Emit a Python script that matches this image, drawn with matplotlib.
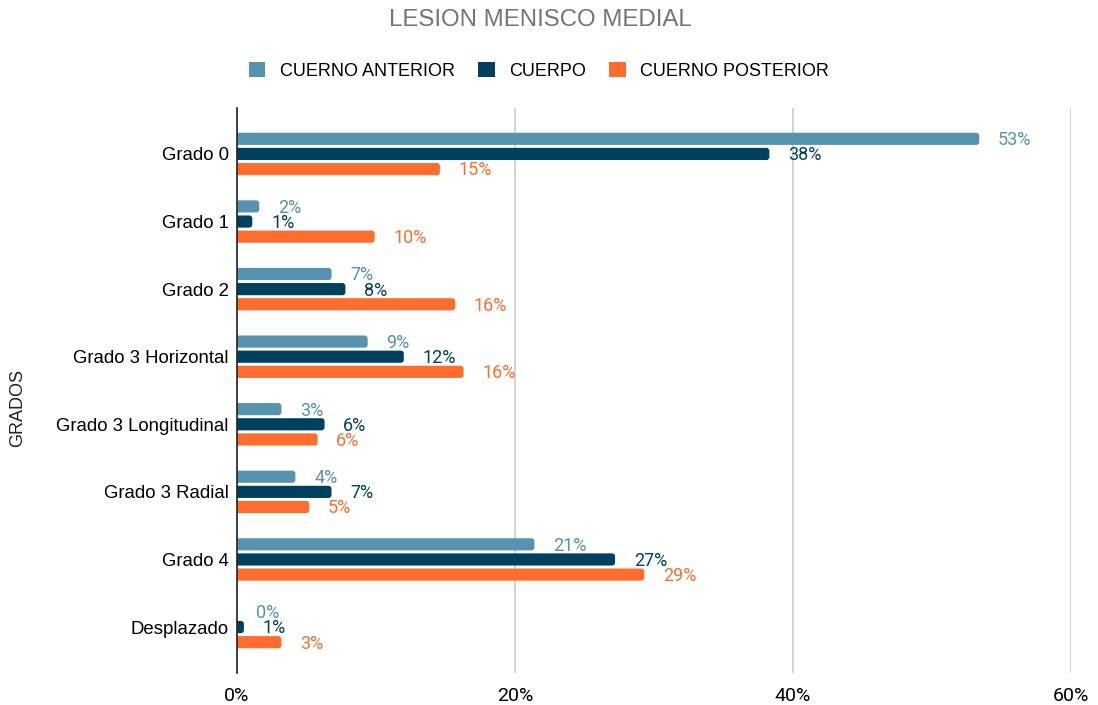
import matplotlib
matplotlib.use('Agg')
import matplotlib.pyplot as plt
from matplotlib.patches import FancyBboxPatch, Patch
import numpy as np

# data (percent)
categories = ['Grado 0', 'Grado 1', 'Grado 2', 'Grado 3 Horizontal',
              'Grado 3 Longitudinal', 'Grado 3 Radial', 'Grado 4', 'Desplazado']
cuerno_anterior = [53.4, 1.6, 6.8, 9.4, 3.2, 4.2, 21.4, 0.0]
cuerpo = [38.3, 1.1, 7.8, 12.0, 6.3, 6.8, 27.2, 0.5]
cuerno_posterior = [14.6, 9.9, 15.7, 16.3, 5.8, 5.2, 29.3, 3.2]
series_names = ['CUERNO ANTERIOR', 'CUERPO', 'CUERNO POSTERIOR']
xticks = [0, 20, 40, 60]

colors = ['#5793af', '#01405e', '#ff6d2e']
label_font = ['Roboto', 'DejaVu Sans']
text_font = ['Liberation Sans', 'DejaVu Sans']

fig = plt.figure(figsize=(10.98, 7.05), dpi=100)
ax = fig.add_axes([237/1098, 1-673/705, (1071-237)/1098, (673-108)/705])

y = np.arange(len(categories))
offset = 0.224
height = 0.18
series = [cuerno_anterior, cuerpo, cuerno_posterior]

# px per data unit, used for round ends
xpx = (1071-237) / 60.0
ypx = (673-108) / 8.36
r = 3.0 / xpx

for i, vals in enumerate(series):
    bars = ax.barh(y + (i-1)*offset, vals, height=height, color=colors[i])
    for b, v in zip(bars, vals):
        b.set_visible(False)
        if v > 0:
            p = FancyBboxPatch((b.get_x() - r, b.get_y()), b.get_width() + r, b.get_height(),
                               boxstyle='round,pad=0,rounding_size=%f' % r,
                               mutation_aspect=xpx/ypx, linewidth=0,
                               facecolor=colors[i])
            ax.add_patch(p)
        lbl = '%d%%' % int(v + 0.5)
        ax.annotate(lbl, (v, b.get_y() + b.get_height()/2), xytext=(13.5, -1),
                    textcoords='offset points', va='center', ha='left',
                    color=colors[i], fontsize=13, family=label_font)

ax.set_xlim(0, 60)
ax.set_ylim(7.68, -0.68)
ax.set_yticks(y)
ax.set_yticklabels(categories, fontsize=13.4, family=text_font)
ax.set_xticks(xticks)
ax.set_xticklabels(['%d%%' % t for t in xticks], fontsize=14, family=label_font)
ax.tick_params(axis='y', length=0, pad=6)
ax.tick_params(axis='x', length=0, pad=10)
ax.grid(axis='x', color='#cccccc', linewidth=1.2)
ax.set_axisbelow(True)
for s in ['top', 'right', 'bottom']:
    ax.spines[s].set_visible(False)
ax.spines['left'].set_color('#222222')
ax.spines['left'].set_linewidth(1.2)
ax.spines['left'].set_zorder(5)

fig.text(0.492, 1-20/705, 'LESION MENISCO MEDIAL', ha='center', va='center',
         fontsize=17.3, color='#757575', family=text_font)
fig.text(18/1098, 1-408/705, 'GRADOS', rotation=90, ha='center', va='center',
         fontsize=13, color='#222222', family=text_font)

handles = [Patch(facecolor=c, edgecolor='none') for c in colors]
fig.legend(handles, series_names, loc='center', bbox_to_anchor=(0.491, 1-71/705),
           ncol=3, frameon=False, handlelength=0.9, handleheight=0.9,
           handletextpad=0.8, columnspacing=1.3,
           prop={'family': text_font, 'size': 13})

fig.savefig('out.png', dpi=100)
